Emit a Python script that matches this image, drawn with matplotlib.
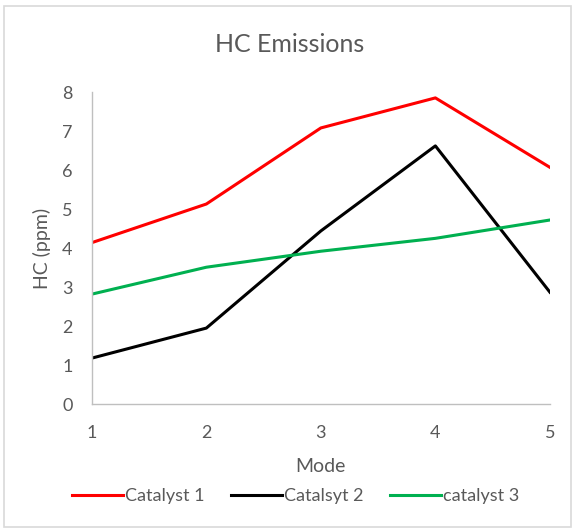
import matplotlib.pyplot as plt
from matplotlib.patches import Rectangle

modes = [1, 2, 3, 4, 5]
catalyst1 = [4.14, 5.13, 7.08, 7.85, 6.07]
catalyst2 = [1.18, 1.95, 4.44, 6.62, 2.87]
catalyst3 = [2.82, 3.51, 3.92, 4.25, 4.72]
labels = ['Catalyst 1', 'Catalsyt 2', 'catalyst 3']
colors = ['#ff0000', '#000000', '#00b050']

plt.rcParams['font.family'] = ['Lato', 'DejaVu Sans']
text_color = '#595959'

fig = plt.figure(figsize=(5.74, 5.29), dpi=100)
ax = fig.add_axes([0.160, 0.236, 0.798, 0.590])

for series, label, color in zip([catalyst1, catalyst2, catalyst3], labels, colors):
    ax.plot(modes, series, color=color, linewidth=2.2, label=label)

ax.set_xlim(1, 5)
ax.set_ylim(0, 8)
ax.set_xticks(modes)
ax.set_yticks(range(0, 9))
ax.tick_params(length=0, labelsize=13, labelcolor=text_color)
ax.tick_params(axis='x', pad=15)
ax.tick_params(axis='y', pad=14)

for side in ['top', 'right']:
    ax.spines[side].set_visible(False)
for side in ['left', 'bottom']:
    ax.spines[side].set_color('#bfbfbf')
    ax.spines[side].set_linewidth(1.0)

ax.set_xlabel('Mode', fontsize=14, color=text_color, labelpad=12)
ax.set_ylabel('HC (ppm)', fontsize=14, color=text_color, labelpad=8)
fig.text(0.505, 0.915, 'HC Emissions', ha='center', va='center',
         fontsize=18, color=text_color)

fig.legend(loc='center', bbox_to_anchor=(0.515, 0.062), ncol=3, frameon=False,
           fontsize=13, handlelength=2.8, handletextpad=0.1, columnspacing=1.5,
           labelcolor=text_color)

# outer chart border
fig.patches.append(Rectangle((0.007, 0.004), 0.988, 0.985, transform=fig.transFigure,
                             fill=False, edgecolor='#d9d9d9', linewidth=1.2))

fig.savefig('out.png', dpi=100)
